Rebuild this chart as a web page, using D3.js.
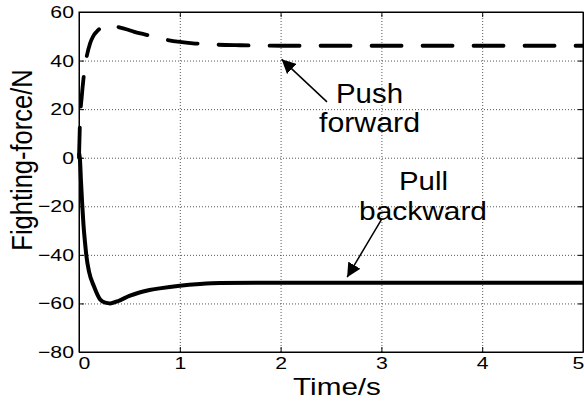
<!DOCTYPE html>
<html>
<head>
<meta charset="utf-8">
<script src="https://cdn.jsdelivr.net/npm/d3@7"></script>
<style>
  body { margin: 0; background: #fff; }
  text { font-family: "Liberation Sans", Arial, sans-serif; fill: #000; }
  .grid line { stroke: #555; stroke-width: 1; stroke-dasharray: 1,2; }
  .grid path { display: none; }
</style>
</head>
<body>
<svg id="chart" width="584" height="401"></svg>
<script>
// time axis and force values
const pushT = [0, 0.01, 0.027, 0.043, 0.07, 0.11, 0.14, 0.175, 0.22, 0.27, 0.33, 0.4, 0.47, 0.55, 0.65, 0.74, 0.84, 1.0, 1.13, 1.33, 1.6, 2, 3, 4, 5];
const pushF = [0, 15, 25, 32, 40.2, 47.1, 50, 51.9, 53.6, 54.6, 54.4, 53.7, 52.9, 51.8, 50.8, 49.8, 48.8, 47.7, 47.1, 46.6, 46.3, 46.1, 46.1, 46.1, 46.1];

const pullT = [0, 0.01, 0.02, 0.033, 0.045, 0.06, 0.072, 0.1, 0.15, 0.21, 0.26, 0.31, 0.4, 0.5, 0.6, 0.7, 0.8, 1.0, 1.2, 1.4, 1.8, 2.5, 3.5, 5];
const pullF = [2, -1, -10, -20, -28, -35, -40, -47, -53.1, -58.4, -59.7, -60, -58.8, -56.9, -55.5, -54.5, -53.8, -52.7, -52, -51.6, -51.5, -51.5, -51.5, -51.5];

const xTicks = [0, 1, 2, 3, 4, 5];
const yTicks = [-80, -60, -40, -20, 0, 20, 40, 60];

const margin = {top: 12, right: 1, bottom: 49, left: 79};
const W = 584, H = 401;
const w = W - margin.left - margin.right, h = H - margin.top - margin.bottom;

const svg = d3.select("#chart");
const g = svg.append("g").attr("transform", `translate(${margin.left},${margin.top})`);

const x = d3.scaleLinear().domain([0, 5]).range([0, w]);
const y = d3.scaleLinear().domain([-80, 60]).range([h, 0]);

// dotted grid
g.append("g").attr("class", "grid")
    .attr("transform", `translate(0,${h})`)
    .call(d3.axisBottom(x).tickValues(xTicks.slice(1, -1)).tickSize(-h).tickFormat(""));
g.append("g").attr("class", "grid")
    .call(d3.axisLeft(y).tickValues(yTicks.slice(1, -1)).tickSize(-w).tickFormat(""));

// curves
const line = d3.line().x(d => x(d[0])).y(d => y(d[1])).curve(d3.curveMonotoneX);

g.append("path").datum(pullT.map((t, i) => [t, pullF[i]]))
    .attr("d", line).attr("fill", "none").attr("stroke", "#000")
    .attr("stroke-width", 4).attr("stroke-linejoin", "round");

g.append("path").datum(pushT.map((t, i) => [t, pushF[i]]))
    .attr("d", line).attr("fill", "none").attr("stroke", "#000")
    .attr("stroke-width", 3.8).attr("stroke-dasharray", "30,21")
    .attr("stroke-linecap", "round");

// axes with inward ticks
const fmt = d3.format("d");
const xAxis = g.append("g").attr("transform", `translate(0,${h})`)
    .call(d3.axisBottom(x).tickValues(xTicks).tickFormat(fmt).tickSize(-5).tickPadding(5).tickSizeOuter(0));
const yAxis = g.append("g")
    .call(d3.axisLeft(y).tickValues(yTicks).tickFormat(fmt).tickSize(-5).tickPadding(5).tickSizeOuter(0));
g.append("g").call(d3.axisTop(x).tickValues(xTicks).tickSize(-5).tickFormat("").tickSizeOuter(0));
g.append("g").attr("transform", `translate(${w},0)`)
    .call(d3.axisRight(y).tickValues(yTicks).tickSize(-5).tickFormat("").tickSizeOuter(0));

g.selectAll(".domain").attr("stroke", "#000");
g.selectAll(".tick line").attr("stroke", "#000");

// end labels sit a little inside the box, as in the original
xAxis.selectAll(".tick text").attr("font-size", 17).attr("font-family", null)
    .attr("transform", d => `translate(${d === 0 ? 5 : d === 5 ? -5 : 0},0) scale(1.25,1)`);
yAxis.selectAll(".tick text").attr("font-size", 17).attr("font-family", null)
    .attr("x", null).attr("transform", "translate(-5,0) scale(1.25,1)");

// frame
g.append("rect").attr("width", w).attr("height", h)
    .attr("fill", "none").attr("stroke", "#000").attr("stroke-width", 1);

// axis labels
svg.append("text").attr("text-anchor", "middle").attr("font-size", 23)
    .attr("transform", `translate(${margin.left + w / 2 + 6},395) scale(1.29,1)`)
    .text("Time/s");
svg.append("text").attr("text-anchor", "middle").attr("font-size", 25.5)
    .attr("transform", `translate(32,160) scale(1.13,1) rotate(-90)`)
    .text("Fighting-force/N");

// annotations
svg.append("defs").append("marker").attr("id", "ah")
    .attr("viewBox", "0 0 10 10").attr("refX", 10).attr("refY", 5)
    .attr("markerWidth", 14).attr("markerHeight", 14).attr("markerUnits", "userSpaceOnUse")
    .attr("orient", "auto")
    .append("path").attr("d", "M0,0 L10,5 L0,10 z").attr("fill", "#000");

const note = (t1, v1, t2, v2) => g.append("line")
    .attr("x1", x(t1)).attr("y1", y(v1)).attr("x2", x(t2)).attr("y2", y(v2))
    .attr("stroke", "#000").attr("stroke-width", 1.5).attr("marker-end", "url(#ah)");
note(2.46, 23, 2.01, 40.5);
note(3.0, -25.5, 2.66, -49.2);

const label = (s, px, py, size, len) => svg.append("text")
    .attr("x", px).attr("y", py).attr("font-size", size)
    .attr("textLength", len).attr("lengthAdjust", "spacingAndGlyphs").text(s);
label("Push", 336, 103, 27, 67);
label("forward", 319, 132, 27, 101);
label("Pull", 399, 190, 26, 49);
label("backward", 359, 220, 26, 128);
</script>
</body>
</html>
